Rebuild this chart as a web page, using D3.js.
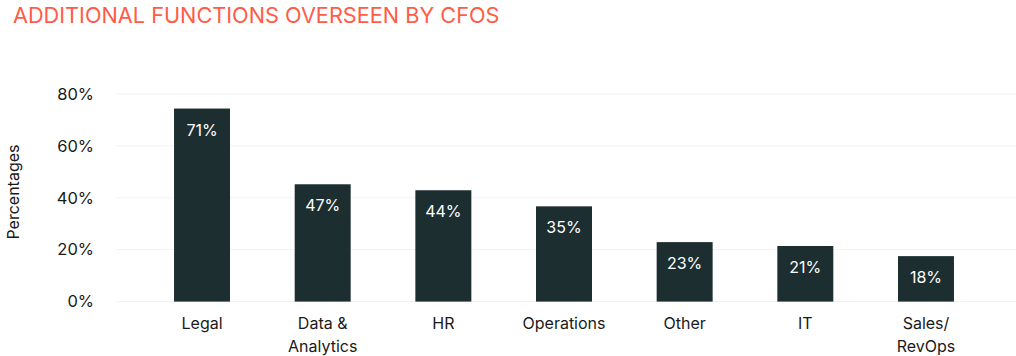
<!DOCTYPE html>
<html>
<head>
<meta charset="utf-8">
<script src="https://cdn.jsdelivr.net/npm/d3@7"></script>
<style>
  html, body { margin: 0; padding: 0; background: #fff; }
  svg { display: block; }
  text { font-family: Inter, "Noto Sans", sans-serif; }
</style>
</head>
<body>
<svg id="chart" width="1016" height="356"></svg>
<script>
const categories = [["Legal"], ["Data &", "Analytics"], ["HR"], ["Operations"], ["Other"], ["IT"], ["Sales/", "RevOps"]];
const barValues = [74.2, 45.0, 42.7, 36.5, 22.7, 21.2, 17.3];
const barLabels = ["71%", "47%", "44%", "35%", "23%", "21%", "18%"];
const yTicks = [0, 20, 40, 60, 80];
const titleText = "ADDITIONAL FUNCTIONS OVERSEEN BY CFOS";
const yTitle = "Percentages";

const svg = d3.select("#chart");
const keys = categories.map((c, i) => i);

const y = d3.scaleLinear().domain([0, 80]).range([301, 93.5]);
const x = d3.scaleBand().domain(keys).range([141.7, 986.3]).padding(0);
const barW = x.bandwidth() * 0.464;

// title
svg.append("text")
  .attr("x", 13).attr("y", 23)
  .attr("fill", "#FF5C48")
  .attr("font-size", 21.7)
  .attr("font-weight", 400)
  .text(titleText);

// gridlines
svg.append("g").selectAll("line").data(yTicks).join("line")
  .attr("x1", 116).attr("x2", 1016)
  .attr("y1", d => y(d) + 0.5).attr("y2", d => y(d) + 0.5)
  .attr("stroke", "#F3F3F3").attr("stroke-width", 1);

// y axis labels
const yAxis = d3.axisLeft(y).tickValues(yTicks).tickFormat(d => d + "%").tickSize(0).tickPadding(0);
const gy = svg.append("g").attr("transform", "translate(94,0)").call(yAxis);
gy.select(".domain").remove();
gy.selectAll("text")
  .attr("font-family", "Inter, 'Noto Sans', sans-serif")
  .attr("font-size", 16.5).attr("fill", "#1a1a1a")
  .attr("dy", "0.35em");

// y title
svg.append("text")
  .attr("transform", "translate(19,192) rotate(-90)")
  .attr("text-anchor", "middle")
  .attr("font-size", 16).attr("fill", "#1a1a1a")
  .text(yTitle);

// bars
const bars = svg.append("g").selectAll("g").data(keys).join("g");
bars.append("rect")
  .attr("x", d => x(d) + x.bandwidth() / 2 - barW / 2)
  .attr("width", barW)
  .attr("y", d => y(barValues[d]))
  .attr("height", d => y(0) - y(barValues[d]))
  .attr("fill", "#1D2E31");
bars.append("line")
  .attr("x1", d => x(d) + x.bandwidth() / 2 - barW / 2)
  .attr("x2", d => x(d) + x.bandwidth() / 2 + barW / 2)
  .attr("y1", y(0) + 0.5).attr("y2", y(0) + 0.5)
  .attr("stroke", "#6E7C7E").attr("stroke-width", 1);
bars.append("text")
  .attr("x", d => x(d) + x.bandwidth() / 2)
  .attr("y", d => y(barValues[d]) + 27)
  .attr("text-anchor", "middle")
  .attr("font-size", 16).attr("fill", "#ffffff")
  .text(d => barLabels[d]);

// x labels
const xl = svg.append("g").selectAll("text").data(keys).join("text")
  .attr("x", d => x(d) + x.bandwidth() / 2)
  .attr("y", 328.5)
  .attr("text-anchor", "middle")
  .attr("font-size", 16).attr("fill", "#1a1a1a");
xl.selectAll("tspan").data(d => categories[d].map(t => ({t, cx: x(d) + x.bandwidth() / 2}))).join("tspan")
  .attr("x", t => t.cx)
  .attr("dy", (t, i) => i === 0 ? 0 : 23)
  .text(t => t.t);
</script>
</body>
</html>
